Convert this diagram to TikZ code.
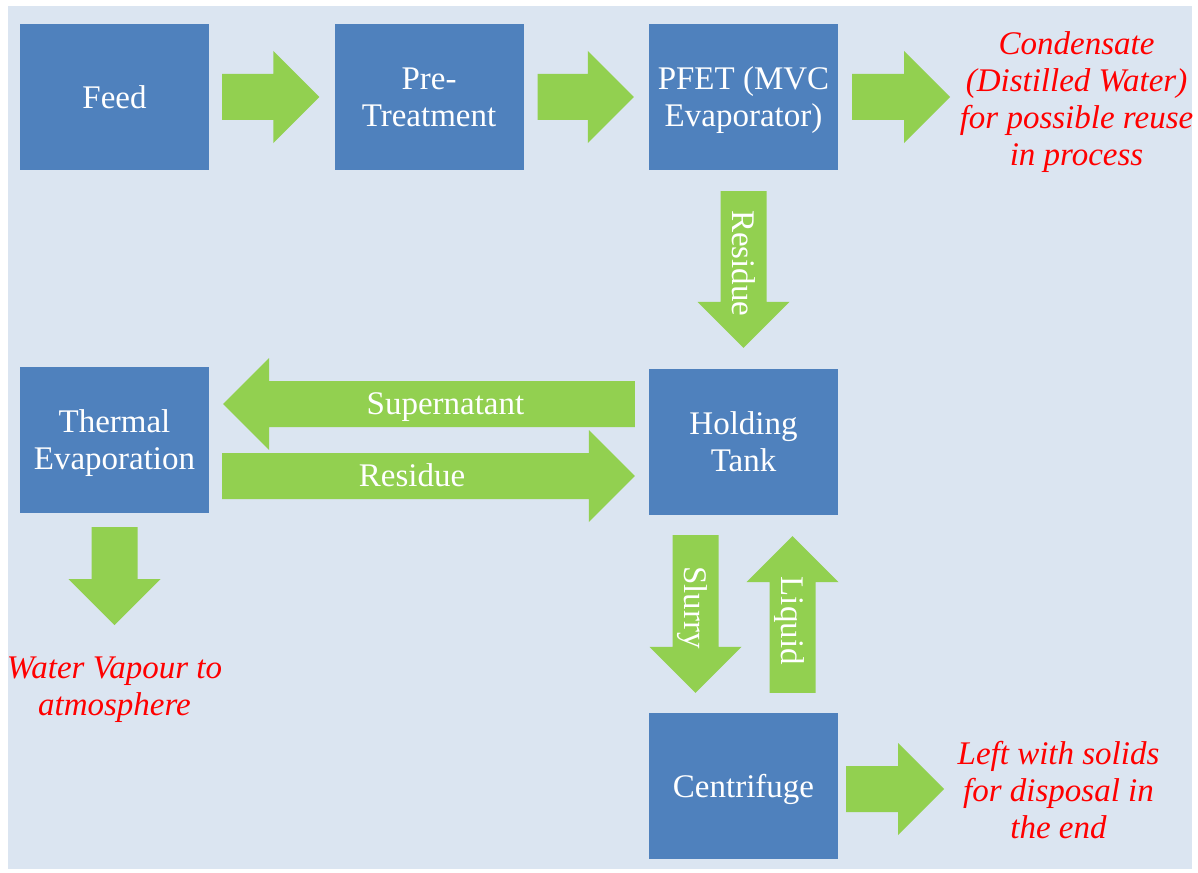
\documentclass[tikz,border=0pt]{standalone}
\usepackage{xcolor}
\usepackage{fontspec}
\setmainfont{Liberation Serif}
\usepackage{tikz}
\usetikzlibrary{positioning,calc}

\definecolor{boxblue}{HTML}{4F81BD}
\definecolor{flowgreen}{HTML}{92D050}
\definecolor{paneblue}{HTML}{DBE5F1}

\tikzset{
	box/.style={fill=boxblue, text=white, minimum width=189pt, minimum height=146pt, inner sep=0pt, align=center, text depth=-2pt, font=\fontsize{33}{37}\selectfont},
	flow/.style={fill=flowgreen},
	flowtext/.style={text=white, inner sep=0pt, text height=21.8pt, text depth=0pt, font=\fontsize{33}{37}\selectfont},
	note/.style={text=red, align=center, inner sep=0pt, font=\fontsize{33}{37}\selectfont\itshape}
}

\newcommand\barrow[4][]{%
	\coordinate (h) at ($(#3)!46pt!(#2)$);
	\fill[flow]	($(#2)!23pt!90:(#3)$) -- ($(h)!23pt!90:(#3)$) -- ($(h)!46pt!90:(#3)$) -- (#3)
				-- ($(h)!46pt!-90:(#3)$) -- ($(h)!23pt!-90:(#3)$) -- ($(#2)!23pt!-90:(#3)$) -- cycle;
	\if\relax\detokenize{#4}\relax\else
		\node[flowtext,#1] at ($(#2)!0.46!(#3)$) {#4};
	\fi
}

\begin{document}
\begin{tikzpicture}[x=1pt,y=-1pt,node distance=344pt and 314.5pt,on grid]
		\useasboundingbox (0,0) rectangle (1198,872);
		\fill[paneblue] (8,6) rectangle (1192,869);
		
		\node[box]	(feed)	at (114.5,97)				{Feed};
		\node[box]	(pre)		[right=of feed]				{Pre-\\Treatment};
		\node[box]	(pfet)		[right=of pre]				{PFET (MVC\\Evaporator)};
		\node[box]	(thermal)	[below=343pt of feed]		{Thermal\\Evaporation};
		\node[box]	(holding)	[below=345pt of pfet]		{Holding\\Tank};
		\node[box]	(centrifuge)	[below=of holding]		{Centrifuge};
		
		\node[note]	(condensate)	[right=333pt of pfet, yshift=-5.5pt]	{Condensate\\(Distilled Water)\\for possible reuse\\in process};
		\node[note]	(vapour)		[below=249.5pt of thermal]				{Water Vapour to\\atmosphere};
		\node[note]	(solids)		[right=315pt of centrifuge, yshift=-4pt]	{Left with solids\\for disposal in\\the end};
		
		\coordinate	(feed-out)		at ($(feed.east)+(13,0)$);
		\coordinate	(pre-in)		at ($(pre.west)+(-15,0)$);
		\coordinate	(pre-out)		at ($(pre.east)+(14,0)$);
		\coordinate	(pfet-in)		at ($(pfet.west)+(-15,0)$);
		\coordinate	(pfet-out)		at ($(pfet.east)+(14,0)$);
		\coordinate	(cond-in)		at ($(pfet.east)+(112,0)$);
		\coordinate	(pfet-down)		at ($(pfet.south)+(0,21)$);
		\coordinate	(tank-top)		at ($(holding.north)+(0,-21)$);
		\coordinate	(tank-left-a)	at ($(holding.west)+(-14,-38)$);
		\coordinate	(therm-right-a)	at ($(thermal.east)+(14,-36)$);
		\coordinate	(therm-right-b)	at ($(thermal.east)+(13,36)$);
		\coordinate	(tank-left-b)	at ($(holding.west)+(-14,34)$);
		\coordinate	(therm-down)	at ($(thermal.south)+(0,14)$);
		\coordinate	(vapour-in)		at ($(thermal.south)+(0,112)$);
		\coordinate	(slurry-a)		at ($(holding.south)+(-48,20)$);
		\coordinate	(slurry-b)		at ($(centrifuge.north)+(-48,-20)$);
		\coordinate	(liquid-a)		at ($(centrifuge.north)+(49,-20)$);
		\coordinate	(liquid-b)		at ($(holding.south)+(49,21)$);
		\coordinate	(centr-out)		at ($(centrifuge.east)+(8,3)$);
		\coordinate	(solids-in)		at ($(centrifuge.east)+(106,3)$);
		
		\barrow{feed-out}{pre-in}{}
		\barrow{pre-out}{pfet-in}{}
		\barrow{pfet-out}{cond-in}{}
		\barrow[rotate=-90]{pfet-down}{tank-top}{Residue}
		\barrow{tank-left-a}{therm-right-a}{Supernatant}
		\barrow{therm-right-b}{tank-left-b}{Residue}
		\barrow{therm-down}{vapour-in}{}
		\barrow[rotate=-90]{slurry-a}{slurry-b}{Slurry}
		\barrow[rotate=-90]{liquid-a}{liquid-b}{Liquid}
		\barrow{centr-out}{solids-in}{}
	\end{tikzpicture}
\end{document}
